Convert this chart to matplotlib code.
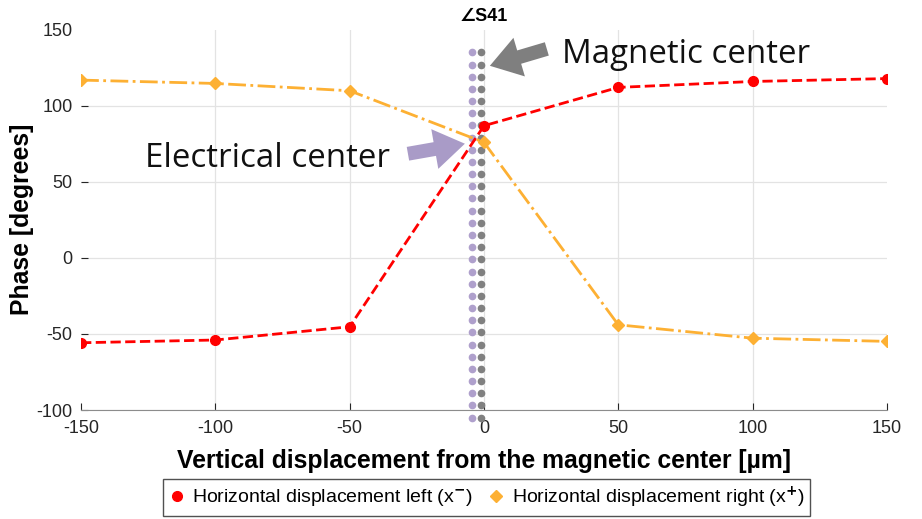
import matplotlib.pyplot as plt
from matplotlib.lines import Line2D

plt.rcParams['font.family'] = ['Liberation Sans', 'DejaVu Sans']
plt.rcParams['axes.unicode_minus'] = False

# vertical offset [um]
offset = [-150, -100, -50, 0, 50, 100, 150]
# phase of S41 [deg]
phase_left = [-55.8, -54.0, -45.3, 86.8, 112.0, 115.9, 117.8]
phase_right = [116.8, 114.6, 109.8, 75.9, -44.0, -52.8, -54.9]

magnetic_center = -1.0
electrical_center = -4.5

red = '#FF0000'
orange = '#FDB033'

fig = plt.figure(figsize=(9.22, 5.19), dpi=100)
ax = fig.add_axes([0.0879, 0.21, 0.874, 0.733])

ax.plot(offset, phase_left, '--', color=red, lw=2, marker='o', ms=7, zorder=3)
ax.plot(offset, phase_right, '-.', color=orange, lw=2, marker='D', ms=6.5, zorder=3)

# centre markers as dotted vertical lines
yy = [-105 + 8 * i for i in range(31)]
ax.plot([electrical_center] * len(yy), yy, ls='none', marker='o', ms=4.5,
        color='#AFA0CC', clip_on=False, zorder=2)
ax.plot([magnetic_center] * len(yy), yy, ls='none', marker='o', ms=4.5,
        color='#808080', clip_on=False, zorder=2)

ax.set_xlim(-150, 150)
ax.set_ylim(-100, 150)
ax.set_xticks([-150, -100, -50, 0, 50, 100, 150])
ax.set_yticks([-100, -50, 0, 50, 100, 150])
ax.tick_params(direction='in', labelsize=13, colors='#262626', length=5)
ax.tick_params(axis='x', pad=7)
ax.tick_params(axis='y', pad=6)
ax.grid(True, color='#E3E3E3', lw=0.9)
ax.set_axisbelow(True)
# no grid/tick at the outer edges
for g in (ax.get_xgridlines()[0], ax.get_xgridlines()[-1], ax.get_ygridlines()[-1]):
    g.set_visible(False)
ax.yaxis.get_major_ticks()[-1].tick1line.set_visible(False)
for s in ['top', 'right', 'left']:
    ax.spines[s].set_visible(False)
ax.spines['bottom'].set_color('#8C8C8C')

ax.set_title('∠S41', fontsize=13, fontweight='bold', pad=6)
ax.set_xlabel('Vertical displacement from the magnetic center [µm]',
              fontsize=17.8, fontweight='bold', labelpad=9)
ax.set_ylabel('Phase [degrees]', fontsize=17.8, fontweight='bold', labelpad=2)

# callouts
arrow = 'simple,head_width=2.9,head_length=2.2,tail_width=1.0'
ax.annotate('', xy=(2.2, 126.2), xytext=(23.4, 137.3),
            arrowprops=dict(arrowstyle=arrow, mutation_scale=10, shrinkA=0,
                            shrinkB=0, color='#7F7F7F', lw=0))
ax.text(28.9, 128.1, 'Magnetic center', fontsize=23.8, family='Open Sans',
        va='baseline', ha='left', color='#111111')
ax.annotate('', xy=(-7.1, 75.0), xytext=(-28.3, 68.4),
            arrowprops=dict(arrowstyle=arrow, mutation_scale=10, shrinkA=0,
                            shrinkB=0, color='#A99BC7', lw=0))
ax.text(-35, 59.9, 'Electrical center', fontsize=23.8, family='Open Sans',
        va='baseline', ha='right', color='#111111')

handles = [Line2D([], [], ls='none', marker='o', ms=7, color=red),
           Line2D([], [], ls='none', marker='D', ms=6.5, color=orange)]
labels = ['Horizontal displacement left (x$^{\\mathbf{-}}$)',
          'Horizontal displacement right (x$^{\\mathbf{+}}$)']
fig.legend(handles, labels, loc='lower center', bbox_to_anchor=(0.528, -0.012),
           ncol=2, fontsize=14, frameon=True, fancybox=False,
           edgecolor='#262626', handlelength=0.8, handletextpad=0.4,
           columnspacing=0.8, borderpad=0.3)

fig.savefig('out.png', dpi=100)
